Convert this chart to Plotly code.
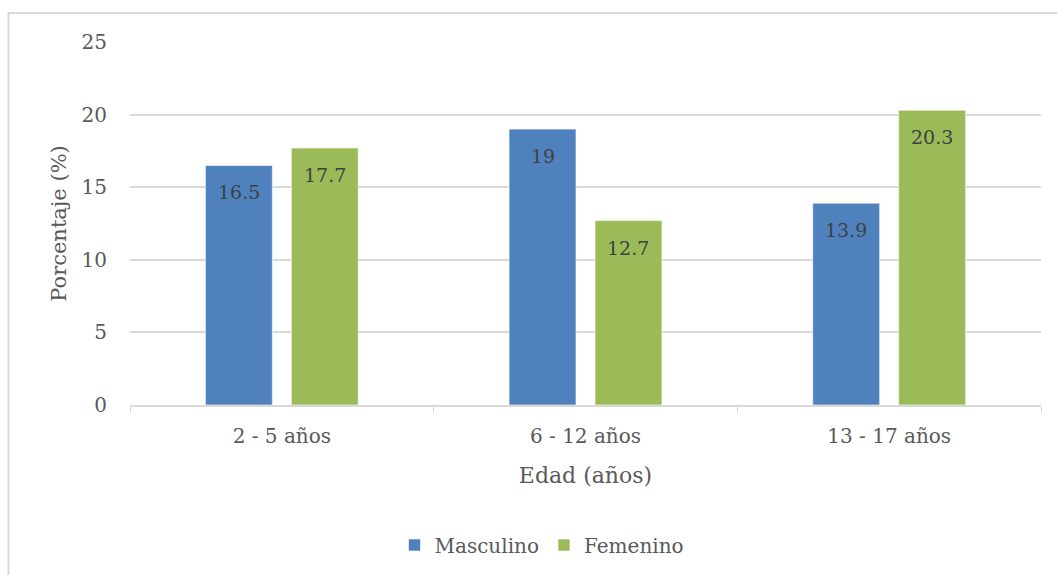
import plotly.graph_objects as go

categorias = ["2 - 5 años", "6 - 12 años", "13 - 17 años"]
masculino = [16.5, 19, 13.9]
femenino = [17.7, 12.7, 20.3]
y_ticks = [0, 5, 10, 15, 20, 25]

FONT = "DejaVu Serif"
W, H = 1057, 575
L, R, T, B = 130, 16, 42, 169
pw, ph = W - L - R, H - T - B

BARGAP, GROUPGAP = 0.434, 0.221
slot = (1 - BARGAP) * pw / len(categorias) / 2   # width per trace in a group (px)


def px_x(x):
    return (x - L) / pw


def px_y(y):
    return (H - B - y) / ph


fig = go.Figure()
series = [("Masculino", masculino, "#4F81BD", -0.5),
          ("Femenino", femenino, "#9BBB59", 0.5)]
for nombre, valores, color, lado in series:
    fig.add_trace(go.Bar(
        name=nombre, x=categorias, y=valores,
        marker=dict(color=color, line=dict(color="rgba(255,255,255,0.6)", width=1)),
        hoverinfo="x+y+name",
    ))
    # value labels placed just inside the top of each bar
    for cat, v in zip(categorias, valores):
        fig.add_annotation(
            x=cat, y=v, xref="x", yref="y",
            text=f"{v:g}", showarrow=False,
            xshift=lado * slot, yshift=-27, yanchor="middle",
            font=dict(family=FONT, size=19, color="#404040"),
        )

fig.update_layout(
    width=W, height=H,
    margin=dict(l=L, r=R, t=T, b=B),
    paper_bgcolor="white", plot_bgcolor="white",
    barmode="group", bargap=BARGAP, bargroupgap=GROUPGAP,
    font=dict(family=FONT, color="#595959"),
    showlegend=True,
    legend=dict(orientation="h", x=px_x(542), xanchor="center",
                y=px_y(545), yanchor="middle",
                font=dict(family=FONT, size=20, color="#595959"),
                itemwidth=30, traceorder="normal"),
)

fig.update_yaxes(
    range=[0, 25], tickvals=y_ticks,
    showgrid=True, gridcolor="#D9D9D9", gridwidth=1.5,
    zeroline=False, showline=False,
    tickfont=dict(family=FONT, size=20, color="#595959"),
    ticks="", ticklabelstandoff=22,
    title=dict(text="Porcentaje (%)", font=dict(family=FONT, size=21, color="#595959"),
               standoff=9),
)
fig.update_xaxes(
    showline=True, linecolor="#D9D9D9", linewidth=1.5,
    ticks="outside", tickson="boundaries", ticklen=6, tickcolor="#D9D9D9",
    tickfont=dict(family=FONT, size=20, color="#595959"),
    ticklabelstandoff=12,
    title=dict(text="Edad (años)", font=dict(family=FONT, size=22, color="#595959"),
               standoff=21),
)

# chart frame
fig.add_shape(type="rect", xref="paper", yref="paper",
              x0=px_x(8.5), x1=px_x(1065), y0=px_y(585), y1=px_y(13),
              line=dict(color="#D9D9D9", width=2), fillcolor="rgba(0,0,0,0)",
              layer="below")

fig.write_html("out.html")
